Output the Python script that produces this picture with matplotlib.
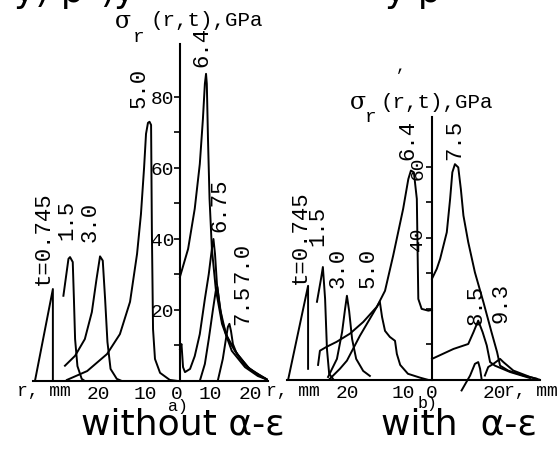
import matplotlib.pyplot as plt

W, H = 559, 452

# ---- panel a) without alpha-epsilon : r in mm (left half plotted as -r), sigma_r in GPa
a_t0745_r = [-37.2, -32.6, -32.6]
a_t0745_s = [0, 25.9, 0]
a_t15_r = [-29.9, -28.6, -28.2, -27.5, -27.2, -26.9, -26.3, -25.2, -24.4]
a_t15_s = [24.0, 34.4, 34.9, 33.5, 23.1, 11.8, 4.2, 0.6, 0]
a_t30_r = [-29.5, -26.9, -24.4, -22.6, -21.4, -20.5, -19.8, -19.2, -18.6, -17.8, -16.2, -14.9]
a_t30_s = [4.3, 7.1, 11.8, 19.4, 28.7, 35.1, 33.9, 23.1, 11.0, 3.4, 0.6, 0]
a_t50_r = [-29.0, -23.8, -18.7, -15.4, -12.8, -11.0, -10.0, -9.2, -8.7, -8.2, -7.8, -7.4,
           -7.2, -6.9, -6.4, -5.1, -2.6, -0.5]
a_t50_s = [0.3, 2.8, 7.6, 13.2, 22.3, 35.8, 47.0, 60.0, 69.6, 72.7, 73.0, 72.1,
           42.8, 14.6, 6.2, 2.3, 0.3, 0]
a_t64_r = [0, 2.1, 3.8, 5.1, 5.9, 6.4, 6.7, 6.9, 7.2, 7.6, 8.2, 9.2, 10.8, 13.3, 16.7, 20.0, 22.6]
a_t64_s = [29.3, 37.2, 48.5, 61.1, 73.8, 83.7, 86.5, 83.7, 68.2, 51.3, 37.2, 25.9, 16.1, 8.5, 3.9, 1.4, 0.3]
a_t675_r = [0, 0.4, 0.8, 1.3, 2.6, 3.8, 5.1, 6.4, 7.4, 8.2, 8.6, 9.0, 9.5, 10.3, 11.8, 14.1, 17.4, 21.0, 22.6]
a_t675_s = [9.0, 10.4, 3.9, 2.5, 3.4, 7.0, 13.2, 23.1, 30.1, 37.2, 40.0, 35.8, 27.3, 20.3, 13.2, 8.5, 3.9, 1.1, 0.3]
a_t70_r = [5.1, 6.4, 7.4, 8.5, 9.2, 9.6, 10.0, 10.8, 12.3, 14.9, 17.9, 21.8]
a_t70_s = [0, 4.8, 11.8, 20.3, 25.4, 26.5, 23.1, 16.9, 11.8, 7.3, 3.4, 0.8]
a_t75_r = [9.7, 11.0, 11.8, 12.3, 12.7, 13.1, 13.6, 14.6, 16.7, 19.2, 22.1]
a_t75_s = [0, 6.2, 11.8, 15.2, 16.1, 14.1, 10.4, 7.6, 4.5, 2.3, 0.6]

# ---- panel b) with alpha-epsilon
b_t0745_r = [-38.9, -33.5, -33.5]
b_t0745_s = [0, 26.5, 3.1]
b_t15_r = [-31.1, -30.0, -29.5, -28.9, -28.4, -27.8, -26.8]
b_t15_s = [22.0, 28.5, 31.8, 22.8, 8.7, 1.7, 0.3]
b_t30_r = [-28.1, -25.7, -24.3, -23.5, -23.0, -22.4, -21.6, -20.5, -18.6, -16.8]
b_t30_s = [0.8, 5.9, 13.5, 20.0, 23.7, 19.4, 11.5, 5.9, 2.5, 1.1]
b_t50_r = [-27.6, -24.9, -23.0, -21.6, -19.5, -16.8, -14.1, -13.5, -12.7, -11.4, -10.0,
           -9.5, -8.6, -6.5, -3.2, -1.1]
b_t50_s = [0.3, 3.1, 5.4, 8.2, 12.4, 17.2, 22.0, 17.7, 13.8, 12.1, 11.0,
           7.3, 4.2, 1.7, 0.6, 0]
b_t64_r = [-30.8, -30.3, -28.5, -25.8, -22.2, -18.6, -14.9, -12.7, -10.5, -7.8, -6.4, -5.7,
           -4.9, -4.1, -3.9, -3.7, -2.8, -1.0, 0]
b_t64_s = [4.2, 8.2, 9.3, 10.7, 13.0, 16.3, 20.6, 25.1, 35.0, 48.2, 56.6, 59.0,
           58.5, 51.0, 36.9, 22.8, 20.0, 19.5, 19.7]
b_t75_r = [0, 1.3, 2.2, 4.0, 4.9, 5.5, 6.2, 7.1, 7.8, 8.5, 9.8, 11.6, 13.9, 16.1, 17.6,
           18.4, 20.6, 24.7, 28.3]
b_t75_s = [28.5, 31.3, 34.1, 41.6, 51.0, 58.5, 60.8, 59.9, 53.8, 46.3, 38.8, 30.3, 21.9,
           13.4, 7.8, 4.0, 2.6, 1.2, 0.3]
b_t85_r = [0, 5.8, 9.8, 11.2, 12.5, 13.7, 14.8, 15.7, 17.0, 21.1, 26.5]
b_t85_s = [5.9, 8.7, 10.1, 13.4, 16.7, 13.4, 9.7, 5.0, 4.0, 2.2, 0.5]
b_t93_r = [14.3, 15.2, 16.6, 18.4, 19.3, 22.0, 26.5, 29.2]
b_t93_s = [1.2, 3.6, 4.5, 5.9, 5.0, 2.6, 0.8, 0]
b_hump_r = [8.0, 10.3, 11.6, 12.5, 13.0, 13.4]
b_hump_s = [-3.0, 1.2, 4.5, 5.0, 3.1, 0.3]

MONO = 'Liberation Mono'

fig = plt.figure(figsize=(W / 100, H / 100), dpi=100)
fig.patch.set_facecolor('white')


def add_ax(x0, x1, ytop, ybot):
    return fig.add_axes([x0 / W, 1 - ybot / H, (x1 - x0) / W, (ybot - ytop) / H])


def ftext(x, y, s, size=16, rot=0, family=MONO, ha='center', va='center'):
    fig.text(x / W, 1 - y / H, s, fontsize=size, rotation=rot, family=family,
             ha=ha, va=va)


def style(ax):
    for side in ('top', 'right'):
        ax.spines[side].set_visible(False)
    ax.spines['left'].set_position(('data', 0))
    ax.spines['bottom'].set_position(('data', 0))
    for sp in ('left', 'bottom'):
        ax.spines[sp].set_linewidth(1.5)
    ax.patch.set_alpha(0)
    ax.tick_params(axis='x', length=0, pad=3, labelsize=14)
    ax.tick_params(axis='y', which='both', direction='out', length=4, width=1.2,
                   pad=0, labelsize=14)
    for lab in ax.get_xticklabels() + ax.get_yticklabels():
        lab.set_family(MONO)


lw = 1.4

# panel a
axa = add_ax(33, 268, 45, 382)
axa.set_xlim(-37.7, 22.6)
axa.set_ylim(0, 94.9)
for r, s in [(a_t0745_r, a_t0745_s), (a_t15_r, a_t15_s), (a_t30_r, a_t30_s),
             (a_t50_r, a_t50_s), (a_t64_r, a_t64_s), (a_t675_r, a_t675_s),
             (a_t70_r, a_t70_s), (a_t75_r, a_t75_s)]:
    axa.plot(r, s, color='black', lw=lw)
axa.set_yticks([20, 40, 60, 80], ['20', '40', '60', '80'])
axa.set_yticks([10, 30, 50, 70], minor=True)
axa.set_xticks([-21.0, -9.0, -0.8, 7.7, 18.2], ['20', '10', '0', '10', '20'])
style(axa)

# panel b
axb = add_ax(287, 540, 118, 395)
axb.set_xlim(-39.2, 29.2)
axb.set_ylim(-4, 74.1)
for r, s in [(b_t0745_r, b_t0745_s), (b_t15_r, b_t15_s), (b_t30_r, b_t30_s),
             (b_t50_r, b_t50_s), (b_t64_r, b_t64_s), (b_t75_r, b_t75_s),
             (b_t85_r, b_t85_s), (b_t93_r, b_t93_s), (b_hump_r, b_hump_s)]:
    axb.plot(r, s, color='black', lw=lw)
axb.set_yticks([40, 60], ['40', '60'])
axb.set_yticks([10, 20, 30, 50], minor=True)
axb.set_xticks([-23.0, -7.8, 0, 17.0], ['20', '10', '0', '20'])
style(axb)
axb.spines['left'].set_bounds(0, 74.1)
for lab in axb.get_yticklabels():
    lab.set_rotation(90)
    lab.set_va('center')

# axis titles
ftext(123, 21, 'σ', 17, family='DejaVu Serif')
ftext(139, 38, 'r', 14)
ftext(150, 21, '(r,t),GPa', 15, ha='left')
ftext(358, 103, 'σ', 17, family='DejaVu Serif')
ftext(371, 117, 'r', 14)
ftext(381, 103, '(r,t),GPa', 15, ha='left')

# r axis names
ftext(17, 392, 'r, mm', 13, ha='left')
ftext(266, 392, 'r, mm', 13, ha='left')
ftext(504, 392, 'r, mm', 13, ha='left')

# time labels, panel a
for x, y, s in [(43, 238, 't=0.745'), (67, 220, '1.5'), (90, 222, '3.0'),
                (139, 88, '5.0'), (202, 47, '6.4'), (220, 205, '6.75'),
                (243, 263, '7.0'), (243, 305, '7.5')]:
    ftext(x, y, s, 16, rot=90)

# time labels, panel b
for x, y, s in [(300, 237, 't=0.745'), (318, 226, '1.5'), (338, 268, '3.0'),
                (368, 268, '5.0'), (408, 140, '6.4'), (455, 140, '7.5'),
                (476, 305, '8.5'), (501, 303, '9.3')]:
    ftext(x, y, s, 16, rot=90)

ftext(178, 407, 'a)', 12)
ftext(428, 404, 'b)', 12)
ftext(401, 66, ',', 12)

ftext(183, 425, 'without α-ε', 26, family='DejaVu Sans')
ftext(459, 425, 'with  α-ε', 26, family='DejaVu Sans')

# cut-off line of text at the very top of the scan (only descenders remain)
ftext(14, 9, 'y) p', 26, family='DejaVu Sans', ha='left', va='bottom')
ftext(100, 9, ')y', 26, family='DejaVu Sans', ha='left', va='bottom')
ftext(385, 9, 'y p', 26, family='DejaVu Sans', ha='left', va='bottom')

fig.savefig('out.png', dpi=100, facecolor='white')
